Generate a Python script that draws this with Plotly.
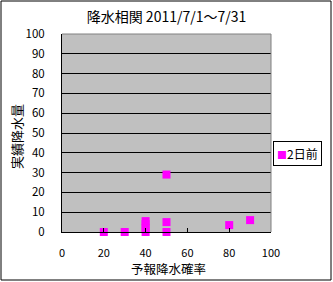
import plotly.graph_objects as go

# Data
forecast_prob = [20, 30, 40, 40, 40, 40, 50, 50, 50, 80, 90]   # 予報降水確率 (%)
actual_rain = [0, 0, 0, 2, 4, 5.5, 29, 5, 0, 3.5, 6]          # 実績降水量 (mm)
series_name = "2日前"
title_text = "降水相関 2011/7/1～7/31"
x_title = "予報降水確率"
y_title = "実績降水量"
x_ticks = [0, 20, 40, 60, 80, 100]
y_ticks = [0, 10, 20, 30, 40, 50, 60, 70, 80, 90, 100]

FONT = "Noto Sans CJK JP"
MAGENTA = "#FF00FF"

fig = go.Figure()
fig.add_trace(go.Scatter(
    x=forecast_prob, y=actual_rain, mode="markers", name=series_name,
    marker=dict(symbol="square", size=8, color=MAGENTA, line=dict(width=0)),
    showlegend=False, cliponaxis=False,
))

W, H = 333, 282
L, R, T, B = 62, 62, 34, 50
pw, ph = W - L - R, H - T - B

fig.update_layout(
    width=W, height=H,
    margin=dict(l=L, r=R, t=T, b=B, pad=0, autoexpand=False),
    paper_bgcolor="white",
    plot_bgcolor="#C0C0C0",
    font=dict(family=FONT, size=12, color="black"),
    title=dict(text=title_text, x=0.5, xref="paper", xanchor="center",
               y=1 - 17 / H, yanchor="middle", font=dict(size=14, family=FONT),
               automargin=False),
    xaxis=dict(range=[0, 100], tickvals=x_ticks, showgrid=False, zeroline=False,
               showline=True, linecolor="black", linewidth=1,
               ticks="inside", ticklen=4, tickcolor="black",
               tickfont=dict(size=11), ticklabelstandoff=11,
               automargin=False, fixedrange=True),
    yaxis=dict(range=[0, 100], tickvals=y_ticks, showgrid=True, gridcolor="black",
               gridwidth=1, zeroline=False,
               showline=True, linecolor="black", linewidth=1, ticks="",
               tickfont=dict(size=11.5), ticklabelstandoff=14,
               automargin=False, fixedrange=True),
    showlegend=False,
)

# axis titles
fig.add_annotation(xref="paper", yref="paper", x=(168 - L) / pw,
                   y=(T + ph - 268) / ph, xanchor="center", yanchor="middle",
                   text=x_title, showarrow=False, font=dict(size=12.5, family=FONT))
fig.add_annotation(xref="paper", yref="paper", x=(16 - L) / pw,
                   y=(T + ph - 137) / ph, xanchor="center", yanchor="middle",
                   text=y_title, textangle=-90, showarrow=False,
                   font=dict(size=13, family=FONT))

# plot-area border (grey on top and right)
fig.add_shape(type="path", xref="paper", yref="paper",
              path="M 0,1 L 1,1 L 1,0", line=dict(color="#808080", width=1),
              layer="above")

# chart outer border
fig.add_shape(type="rect", xref="paper", yref="paper",
              x0=(1 - L) / pw, x1=(331 - L) / pw,
              y0=(T + ph - 280) / ph, y1=(T + ph - 1) / ph,
              line=dict(color="black", width=1), fillcolor="rgba(0,0,0,0)",
              layer="above")

# legend box
fig.add_annotation(
    xref="paper", yref="paper",
    x=(273 - L) / pw, y=(T + ph - 141) / ph, xanchor="left", yanchor="top",
    text=f'<span style="color:{MAGENTA};font-size:10px">■</span>{series_name}',
    showarrow=False, bordercolor="black", borderwidth=1, borderpad=3,
    bgcolor="white", font=dict(size=12, family=FONT),
)

fig.write_html("out.html")
